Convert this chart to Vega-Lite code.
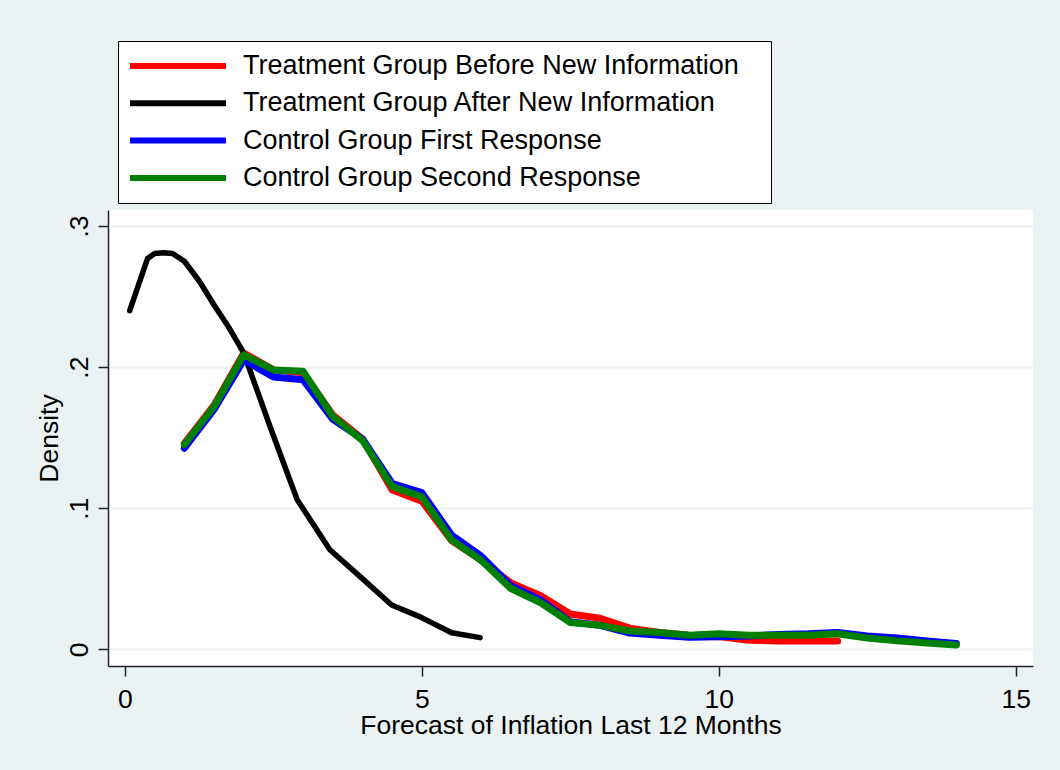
{
  "$schema": "https://vega.github.io/schema/vega-lite/v6.json",
  "width": 925,
  "height": 456,
  "autosize": {"type": "none"},
  "padding": {"left": 108, "top": 210, "right": 27, "bottom": 104},
  "background": "#eaf2f3",
  "config": {
    "font": "Liberation Sans",
    "view": {"fill": "white", "stroke": null}
  },
  "data": {
    "values": [
      {"s": "Treatment Group Before New Information", "x": 1, "y": 0.146},
      {"s": "Treatment Group Before New Information", "x": 1.5, "y": 0.173},
      {"s": "Treatment Group Before New Information", "x": 2, "y": 0.210},
      {"s": "Treatment Group Before New Information", "x": 2.5, "y": 0.198},
      {"s": "Treatment Group Before New Information", "x": 3, "y": 0.196},
      {"s": "Treatment Group Before New Information", "x": 3.5, "y": 0.166},
      {"s": "Treatment Group Before New Information", "x": 4, "y": 0.149},
      {"s": "Treatment Group Before New Information", "x": 4.5, "y": 0.113},
      {"s": "Treatment Group Before New Information", "x": 5, "y": 0.105},
      {"s": "Treatment Group Before New Information", "x": 5.5, "y": 0.077},
      {"s": "Treatment Group Before New Information", "x": 6, "y": 0.063},
      {"s": "Treatment Group Before New Information", "x": 6.5, "y": 0.047},
      {"s": "Treatment Group Before New Information", "x": 7, "y": 0.038},
      {"s": "Treatment Group Before New Information", "x": 7.5, "y": 0.025},
      {"s": "Treatment Group Before New Information", "x": 8, "y": 0.022},
      {"s": "Treatment Group Before New Information", "x": 8.5, "y": 0.015},
      {"s": "Treatment Group Before New Information", "x": 9, "y": 0.012},
      {"s": "Treatment Group Before New Information", "x": 9.5, "y": 0.010},
      {"s": "Treatment Group Before New Information", "x": 10, "y": 0.009},
      {"s": "Treatment Group Before New Information", "x": 10.5, "y": 0.0065},
      {"s": "Treatment Group Before New Information", "x": 11, "y": 0.006},
      {"s": "Treatment Group Before New Information", "x": 11.5, "y": 0.006},
      {"s": "Treatment Group Before New Information", "x": 12, "y": 0.006},

      {"s": "Treatment Group After New Information", "x": 0.08, "y": 0.240},
      {"s": "Treatment Group After New Information", "x": 0.38, "y": 0.277},
      {"s": "Treatment Group After New Information", "x": 0.5, "y": 0.2805},
      {"s": "Treatment Group After New Information", "x": 0.65, "y": 0.281},
      {"s": "Treatment Group After New Information", "x": 0.8, "y": 0.2805},
      {"s": "Treatment Group After New Information", "x": 1.0, "y": 0.275},
      {"s": "Treatment Group After New Information", "x": 1.25, "y": 0.261},
      {"s": "Treatment Group After New Information", "x": 1.5, "y": 0.244},
      {"s": "Treatment Group After New Information", "x": 1.75, "y": 0.228},
      {"s": "Treatment Group After New Information", "x": 2.0, "y": 0.210},
      {"s": "Treatment Group After New Information", "x": 2.45, "y": 0.157},
      {"s": "Treatment Group After New Information", "x": 2.9, "y": 0.106},
      {"s": "Treatment Group After New Information", "x": 3.45, "y": 0.0706},
      {"s": "Treatment Group After New Information", "x": 3.96, "y": 0.0515},
      {"s": "Treatment Group After New Information", "x": 4.49, "y": 0.0314},
      {"s": "Treatment Group After New Information", "x": 4.97, "y": 0.023},
      {"s": "Treatment Group After New Information", "x": 5.5, "y": 0.0118},
      {"s": "Treatment Group After New Information", "x": 5.98, "y": 0.0083},

      {"s": "Control Group First Response", "x": 1, "y": 0.1425},
      {"s": "Control Group First Response", "x": 1.5, "y": 0.170},
      {"s": "Control Group First Response", "x": 2, "y": 0.205},
      {"s": "Control Group First Response", "x": 2.5, "y": 0.193},
      {"s": "Control Group First Response", "x": 3, "y": 0.191},
      {"s": "Control Group First Response", "x": 3.5, "y": 0.163},
      {"s": "Control Group First Response", "x": 4, "y": 0.149},
      {"s": "Control Group First Response", "x": 4.5, "y": 0.1175},
      {"s": "Control Group First Response", "x": 5, "y": 0.111},
      {"s": "Control Group First Response", "x": 5.5, "y": 0.081},
      {"s": "Control Group First Response", "x": 6, "y": 0.066},
      {"s": "Control Group First Response", "x": 6.5, "y": 0.045},
      {"s": "Control Group First Response", "x": 7, "y": 0.035},
      {"s": "Control Group First Response", "x": 7.5, "y": 0.0195},
      {"s": "Control Group First Response", "x": 8, "y": 0.017},
      {"s": "Control Group First Response", "x": 8.5, "y": 0.0115},
      {"s": "Control Group First Response", "x": 9, "y": 0.010},
      {"s": "Control Group First Response", "x": 9.5, "y": 0.0085},
      {"s": "Control Group First Response", "x": 10, "y": 0.009},
      {"s": "Control Group First Response", "x": 10.5, "y": 0.0095},
      {"s": "Control Group First Response", "x": 11, "y": 0.0105},
      {"s": "Control Group First Response", "x": 11.5, "y": 0.011},
      {"s": "Control Group First Response", "x": 12, "y": 0.012},
      {"s": "Control Group First Response", "x": 12.5, "y": 0.0095},
      {"s": "Control Group First Response", "x": 13, "y": 0.008},
      {"s": "Control Group First Response", "x": 13.5, "y": 0.006},
      {"s": "Control Group First Response", "x": 14, "y": 0.0042},

      {"s": "Control Group Second Response", "x": 1, "y": 0.145},
      {"s": "Control Group Second Response", "x": 1.5, "y": 0.172},
      {"s": "Control Group Second Response", "x": 2, "y": 0.2087},
      {"s": "Control Group Second Response", "x": 2.5, "y": 0.198},
      {"s": "Control Group Second Response", "x": 3, "y": 0.197},
      {"s": "Control Group Second Response", "x": 3.5, "y": 0.165},
      {"s": "Control Group Second Response", "x": 4, "y": 0.148},
      {"s": "Control Group Second Response", "x": 4.5, "y": 0.1153},
      {"s": "Control Group Second Response", "x": 5, "y": 0.108},
      {"s": "Control Group Second Response", "x": 5.5, "y": 0.0775},
      {"s": "Control Group Second Response", "x": 6, "y": 0.063},
      {"s": "Control Group Second Response", "x": 6.5, "y": 0.043},
      {"s": "Control Group Second Response", "x": 7, "y": 0.033},
      {"s": "Control Group Second Response", "x": 7.5, "y": 0.019},
      {"s": "Control Group Second Response", "x": 8, "y": 0.017},
      {"s": "Control Group Second Response", "x": 8.5, "y": 0.013},
      {"s": "Control Group Second Response", "x": 9, "y": 0.012},
      {"s": "Control Group Second Response", "x": 9.5, "y": 0.010},
      {"s": "Control Group Second Response", "x": 10, "y": 0.011},
      {"s": "Control Group Second Response", "x": 10.5, "y": 0.010},
      {"s": "Control Group Second Response", "x": 11, "y": 0.010},
      {"s": "Control Group Second Response", "x": 11.5, "y": 0.010},
      {"s": "Control Group Second Response", "x": 12, "y": 0.011},
      {"s": "Control Group Second Response", "x": 12.5, "y": 0.008},
      {"s": "Control Group Second Response", "x": 13, "y": 0.006},
      {"s": "Control Group Second Response", "x": 13.5, "y": 0.0045},
      {"s": "Control Group Second Response", "x": 14, "y": 0.003}
    ]
  },
  "encoding": {
    "x": {
      "field": "x",
      "type": "quantitative",
      "scale": {"domain": [-0.286, 15.29], "nice": false, "zero": false},
      "axis": {
        "values": [0, 5, 10, 15],
        "grid": false,
        "tickSize": 10,
        "tickWidth": 1.5,
        "tickColor": "#222222",
        "domainColor": "#222222",
        "domainWidth": 1.5,
        "labelFontSize": 26.5,
        "labelColor": "black",
        "labelBaseline": "alphabetic",
        "labelPadding": 31,
        "labelFlush": false,
        "labelOverlap": false,
        "title": "Forecast of Inflation Last 12 Months",
        "titleFontSize": 26.5,
        "titleFontWeight": "normal",
        "titleColor": "black",
        "titleBaseline": "alphabetic",
        "titleY": 67
      }
    },
    "y": {
      "field": "y",
      "type": "quantitative",
      "scale": {"domain": [-0.0118, 0.3113], "nice": false, "zero": false},
      "axis": {
        "values": [0, 0.1, 0.2, 0.3],
        "grid": true,
        "gridColor": "#eaf2f3",
        "gridWidth": 2,
        "tickSize": 10,
        "tickWidth": 1.5,
        "tickColor": "#222222",
        "domainColor": "#222222",
        "domainWidth": 1.5,
        "labelFontSize": 26.5,
        "labelColor": "black",
        "labelAngle": -90,
        "labelAlign": "center",
        "labelBaseline": "alphabetic",
        "labelPadding": 11,
        "labelFlush": false,
        "labelOverlap": false,
        "labelExpr": "datum.value == 0 ? '0' : replace(format(datum.value, '.1f'), '0.', '.')",
        "title": "Density",
        "titleFontSize": 26.5,
        "titleFontWeight": "normal",
        "titleColor": "black",
        "titleAngle": -90,
        "titleBaseline": "alphabetic",
        "titleX": -51
      }
    },
    "color": {
      "field": "s",
      "type": "nominal",
      "scale": {
        "domain": [
          "Treatment Group Before New Information",
          "Treatment Group After New Information",
          "Control Group First Response",
          "Control Group Second Response"
        ],
        "range": ["#ff0000", "#000000", "#0000ff", "#008000"]
      },
      "legend": {
        "orient": "none",
        "legendX": 10,
        "legendY": -169,
        "title": null,
        "symbolType": "stroke",
        "symbolSize": 10000,
        "symbolStrokeWidth": 6,
        "symbolOffset": -7,
        "clipHeight": 26,
        "labelFontSize": 27,
        "labelColor": "black",
        "labelLimit": 2000,
        "labelOffset": 14,
        "labelExpr": "datum.label + '\u2800'",
        "strokeColor": "#000000",
        "fillColor": "white",
        "padding": 12,
        "rowPadding": 10.3
      }
    }
  },
  "layer": [
    {
      "transform": [{"filter": "datum.s === 'Treatment Group Before New Information'"}],
      "mark": {"type": "line", "strokeWidth": 7, "strokeCap": "round", "strokeJoin": "round"}
    },
    {
      "transform": [{"filter": "datum.s === 'Treatment Group After New Information'"}],
      "mark": {"type": "line", "strokeWidth": 5.5, "strokeCap": "round", "strokeJoin": "round"}
    },
    {
      "transform": [{"filter": "datum.s === 'Control Group First Response'"}],
      "mark": {"type": "line", "strokeWidth": 7, "strokeCap": "round", "strokeJoin": "round"}
    },
    {
      "transform": [{"filter": "datum.s === 'Control Group Second Response'"}],
      "mark": {"type": "line", "strokeWidth": 7, "strokeCap": "round", "strokeJoin": "round"}
    }
  ]
}
